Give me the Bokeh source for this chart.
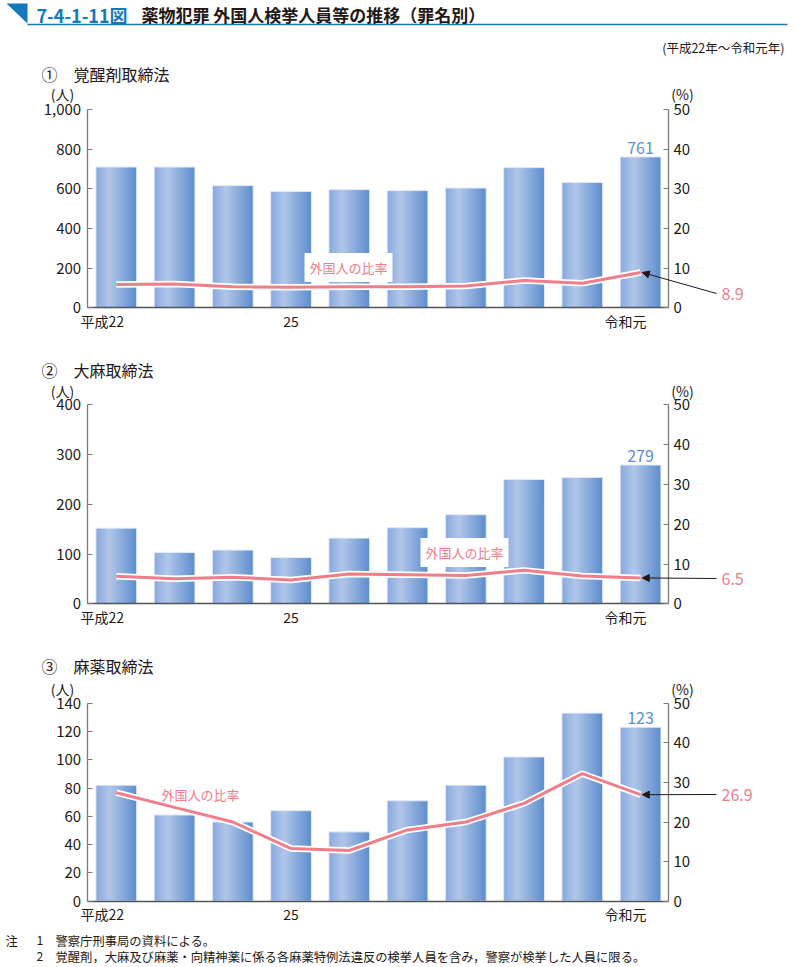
from bokeh.plotting import figure
from bokeh.models import Range1d, LinearAxis, FixedTicker, Label, Arrow, NormalHead
from bokeh.layouts import column
from bokeh.embed import file_html
from bokeh.resources import INLINE
from bokeh.core.properties import value

# ---------------- data ----------------
years = ["平成22", "23", "24", "25", "26", "27", "28", "29", "30", "令和元"]
x_tick_labels = {"first": "平成22", "mid": "25", "last": "令和元"}

stim_counts = [710, 710, 616, 587, 596, 591, 604, 707, 632, 761]
stim_ratio = [5.9, 6.0, 5.3, 5.2, 5.3, 5.3, 5.5, 6.9, 6.2, 8.9]

cannabis_counts = [152, 103, 108, 93, 132, 153, 179, 250, 254, 279]
cannabis_ratio = [6.9, 6.3, 6.7, 6.0, 7.5, 7.3, 7.1, 8.4, 7.0, 6.5]

narc_counts = [82, 61, 56, 64, 49, 71, 82, 102, 133, 123]
narc_ratio = [27.4, 23.7, 20.0, 13.3, 12.8, 18.0, 20.0, 24.7, 32.2, 26.9]

panel_titles = ["①\u3000覚醒剤取締法", "②\u3000大麻取締法", "③\u3000麻薬取締法"]
y_max = [1000, 400, 140]
y_ticks = [[0, 200, 400, 600, 800, 1000], [0, 100, 200, 300, 400],
           [0, 20, 40, 60, 80, 100, 120, 140]]
pct_max = 50
pct_ticks = [0, 10, 20, 30, 40, 50]

header_num = "7-4-1-11図"
header_title = "薬物犯罪 外国人検挙人員等の推移（罪名別）"
subtitle = "(平成22年～令和元年)"
series_label = "外国人の比率"
note_head = "注"
note_nums = ["1", "2"]
notes = ["警察庁刑事局の資料による。",
         "覚醒剤，大麻及び麻薬・向精神薬に係る各麻薬特例法違反の検挙人員を含み，警察が検挙した人員に限る。"]

# ---------------- style / geometry (page pixels) ----------------
JP = "Noto Sans CJK JP"
TXT = "#231815"
AXIS = "#7a7a7a"
BLUE_LBL = "#5b8ed3"
PINK = "#ef7d8a"
HEADER_BLUE = "#1478bd"

W = 795
PX0, PXS = 115.8, 58.25      # page x of first category, px per category
AX_L, AX_R = 86.7, 668.0      # page x of left / right axis lines
BW = 0.70

stops = [(0.0, (136, 168, 222)), (0.33, (177, 198, 233)), (1.0, (92, 141, 205))]


def grad(t):
    for (t0, c0), (t1, c1) in zip(stops[:-1], stops[1:]):
        if t0 <= t <= t1:
            f = (t - t0) / (t1 - t0)
            return "#%02x%02x%02x" % tuple(int(round(a + (b - a) * f)) for a, b in zip(c0, c1))
    return "#%02x%02x%02x" % stops[-1][1]


def X(px):
    return (px - PX0) / PXS


def bare_fig(h, x_range, y_range):
    f = figure(width=W, height=h, output_backend="svg", toolbar_location=None,
               x_range=x_range, y_range=y_range,
               x_axis_location=None, y_axis_location=None,
               min_border=0, min_border_left=0, min_border_right=0,
               min_border_top=0, min_border_bottom=0)
    f.title = None
    f.outline_line_color = None
    f.grid.visible = False
    f.background_fill_color = "white"
    f.border_fill_color = "white"
    return f


def style_axis(a, size="15px", standoff=6):
    a.axis_line_color = AXIS
    a.axis_line_width = 1.3
    a.major_tick_line_color = AXIS
    a.major_tick_in = 5
    a.major_tick_out = 0
    a.minor_tick_line_color = None
    a.major_label_text_font = JP
    a.major_label_text_font_size = size
    a.major_label_text_color = TXT
    a.major_label_standoff = standoff


def make_panel(idx, counts, ratio, g):
    ymax = y_max[idx]
    ftop, fh, zero, top = g["fig_top"], g["h"], g["zero"], g["top"]
    upp = ymax / (zero - top)
    ppp = pct_max / (zero - top)

    def Y(py):
        return (zero - py) * upp

    def P(py):
        return (zero - py) * ppp

    p = bare_fig(fh, Range1d(X(0), X(W)), Range1d(Y(ftop + fh), Y(ftop)))
    p.extra_y_ranges = {"pct": Range1d(P(ftop + fh), P(ftop))}

    # gradient bars
    n = 18
    sw = BW / n
    for k in range(n):
        lefts = [i - BW / 2 + k * sw for i in range(len(counts))]
        rights = [min(l + sw * 1.7, i + BW / 2) for i, l in enumerate(lefts)]
        p.quad(left=lefts, right=rights, bottom=0, top=counts,
               fill_color=grad((k + 0.5) / n), line_color=None)
    p.vbar(x=list(range(len(counts))), top=counts, width=BW, bottom=0,
           fill_color=None, line_color="#e3eaf6", line_width=1)

    # ratio line with white halo
    xs = list(range(len(ratio)))
    p.line(xs, ratio, y_range_name="pct", line_color="white", line_width=6.5)
    p.line(xs, ratio, y_range_name="pct", line_color=PINK, line_width=3)

    # axes
    xa = LinearAxis(fixed_location=0, bounds=(X(AX_L), X(AX_R)),
                    ticker=FixedTicker(ticks=[-0.24, 3, 8.74]))
    xa.major_label_overrides = {-0.24: x_tick_labels["first"], 3: x_tick_labels["mid"],
                                8.74: x_tick_labels["last"]}
    style_axis(xa, "14px", 3)
    xa.major_tick_line_color = None
    xa.axis_line_color = "#555555"
    xa.axis_line_width = 1.5
    p.add_layout(xa, "below")

    ya = LinearAxis(fixed_location=X(AX_L), bounds=(0, ymax),
                    ticker=FixedTicker(ticks=y_ticks[idx]))
    ya.formatter.use_scientific = False
    if ymax >= 1000:
        ya.major_label_overrides = {1000: "1,000"}
    style_axis(ya, "15px", 6)
    p.add_layout(ya, "left")

    ra = LinearAxis(y_range_name="pct", fixed_location=X(AX_R), bounds=(0, pct_max),
                    ticker=FixedTicker(ticks=pct_ticks))
    style_axis(ra, "15px", 5)
    p.add_layout(ra, "right")

    # panel title & unit labels
    p.add_layout(Label(x=X(41), y=Y(g["title_y"]), text=panel_titles[idx],
                       text_font=JP, text_font_size="16px", text_color=TXT,
                       text_baseline="middle", text_align="left"))
    p.add_layout(Label(x=X(62), y=Y(g["unit_y"]), text="(人)",
                       text_font=JP, text_font_size="14px", text_color=TXT,
                       text_baseline="middle", text_align="center"))
    p.add_layout(Label(x=X(682), y=Y(g["unit_y"]), text="(%)",
                       text_font=JP, text_font_size="14px", text_color=TXT,
                       text_baseline="middle", text_align="center"))

    # value label on last bar
    last = len(counts) - 1
    p.add_layout(Label(x=last, y=counts[last], y_offset=3, text=str(counts[last]),
                       text_font=JP, text_font_size="16px", text_color=BLUE_LBL,
                       text_font_style="normal",
                       text_baseline="bottom", text_align="center"))

    # last ratio value + arrow
    ly = g["val_y"]
    p.add_layout(Label(x=X(721), y=P(ly), y_range_name="pct", text=f"{ratio[last]}",
                       text_font=JP, text_font_size="16px", text_color=PINK,
                       text_baseline="middle", text_align="left"))
    p.add_layout(Arrow(x_start=X(716), y_start=P(ly), x_end=last + 0.03, y_end=ratio[last],
                       y_range_name="pct", line_color=TXT, line_width=1,
                       end=NormalHead(size=7, fill_color=TXT, line_color=TXT),
                       start=None))

    # series label
    lx, lyy, box = g["series"]
    p.add_layout(Label(x=X(lx), y=Y(lyy), text=series_label,
                       text_font=JP, text_font_size="13px", text_color=PINK,
                       text_baseline="middle", text_align="center",
                       background_fill_color="white" if box else None,
                       padding=5 if box else 0))
    return p


# ---------------- header ----------------
HH = 58
hdr = bare_fig(HH, Range1d(0, W), Range1d(HH, 0))
hdr.patch([6, 27, 27], [3, 3, 23], fill_color=HEADER_BLUE, line_color=None)
hdr.line([27, 787], [24, 24], line_color=HEADER_BLUE, line_width=1.5)
hdr.text(x=[36], y=[14], text=[header_num], text_font=value(JP), text_font_size="18px",
         text_font_style="bold", text_color=HEADER_BLUE, text_baseline="middle")
hdr.text(x=[141], y=[14], text=[header_title], text_font=value(JP), text_font_size="17px",
         text_font_style="bold", text_color=TXT, text_baseline="middle")
hdr.text(x=[784], y=[47], text=[subtitle], text_font=value(JP), text_font_size="12.5px",
         text_color=TXT, text_baseline="middle", text_align="right")

# ---------------- panels ----------------
p1 = make_panel(0, stim_counts, stim_ratio,
                {"fig_top": 58, "h": 280, "zero": 307.3, "top": 109.0,
                 "title_y": 73, "unit_y": 93, "val_y": 293,
                 "series": (348, 267, True)})
p2 = make_panel(1, cannabis_counts, cannabis_ratio,
                {"fig_top": 338, "h": 294, "zero": 603.3, "top": 404.3,
                 "title_y": 369, "unit_y": 390, "val_y": 578,
                 "series": (464, 552, True)})
p3 = make_panel(2, narc_counts, narc_ratio,
                {"fig_top": 632, "h": 294, "zero": 900.7, "top": 702.7,
                 "title_y": 665, "unit_y": 688, "val_y": 794,
                 "series": (200, 794, False)})

# ---------------- footnotes ----------------
FT0, FH = 926, 39
ft = bare_fig(FH, Range1d(0, W), Range1d(FT0 + FH, FT0))
ft.text(x=[5, 36, 36], y=[940, 940, 956], text=[note_head] + note_nums,
        text_font=value(JP), text_font_size="12.3px", text_color=TXT, text_baseline="middle")
ft.text(x=[55, 55], y=[940, 956], text=notes,
        text_font=value(JP), text_font_size="12.3px", text_color=TXT, text_baseline="middle")

layout = column(hdr, p1, p2, p3, ft, spacing=0)
open("out.html", "w").write(file_html(layout, INLINE))
